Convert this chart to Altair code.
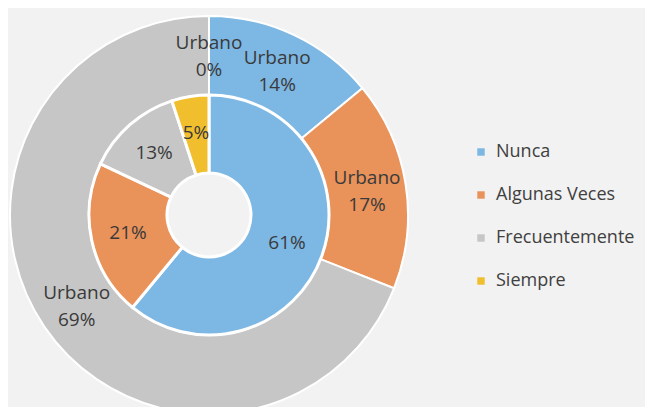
import altair as alt
import pandas as pd

categories = ["Nunca", "Algunas Veces", "Frecuentemente", "Siempre"]
outer_values = [14, 17, 69, 0]
inner_values = [61, 21, 13, 5]
colors = ["#7db7e3", "#e9925a", "#c6c6c6", "#f1be2e"]

outer = pd.DataFrame({
    "cat": categories,
    "val": outer_values,
    "ord": list(range(4)),
    "label": [f"Urbano\n{v}%" for v in outer_values],
})
inner = pd.DataFrame({
    "cat": categories,
    "val": inner_values,
    "ord": list(range(4)),
    "label": [f"{v}%" for v in inner_values],
})

color = alt.Color(
    "cat:N",
    scale=alt.Scale(domain=categories, range=colors),
    sort=categories,
    legend=alt.Legend(
        title=None,
        orient="none",
        legendX=464,
        legendY=135,
        symbolType="square",
        symbolSize=55,
        symbolStrokeWidth=0,
        labelFontSize=18,
        labelFont="Open Sans",
        labelColor="#404040",
        rowPadding=25,
        labelOffset=6,
    ),
)

cx = alt.value(201)
cy = alt.value(207)

outer_arc = alt.Chart(outer).mark_arc(
    innerRadius=120, outerRadius=199, stroke="white", strokeWidth=2
).encode(
    theta=alt.Theta("val:Q", stack=True),
    order=alt.Order("ord:Q"),
    color=color,
    x=cx, y=cy,
)
outer_text = alt.Chart(outer).mark_text(
    radius=160, fontSize=19, font="Open Sans", color="#3a3a3a",
    lineBreak="\n", lineHeight=27, dy=-12
).encode(
    theta=alt.Theta("val:Q", stack=True),
    order=alt.Order("ord:Q"),
    text="label:N",
    x=cx, y=cy,
)
inner_arc = alt.Chart(inner).mark_arc(
    innerRadius=42, outerRadius=120, stroke="white", strokeWidth=3
).encode(
    theta=alt.Theta("val:Q", stack=True),
    order=alt.Order("ord:Q"),
    color=color,
    x=cx, y=cy,
)
inner_text = alt.Chart(inner).mark_text(
    radius=83, fontSize=19, font="Open Sans", color="#3a3a3a"
).encode(
    theta=alt.Theta("val:Q", stack=True),
    order=alt.Order("ord:Q"),
    text="label:N",
    x=cx, y=cy,
)

chart = alt.layer(outer_arc, inner_arc, outer_text, inner_text).resolve_scale(
    theta="independent"
).properties(
    width=637, height=399, padding=0, autosize=alt.AutoSizeParams(type="none"),
    background="#f2f2f2",
).configure_view(stroke=None)

chart.save("out.html", embed_options={"renderer": "svg", "actions": False})
